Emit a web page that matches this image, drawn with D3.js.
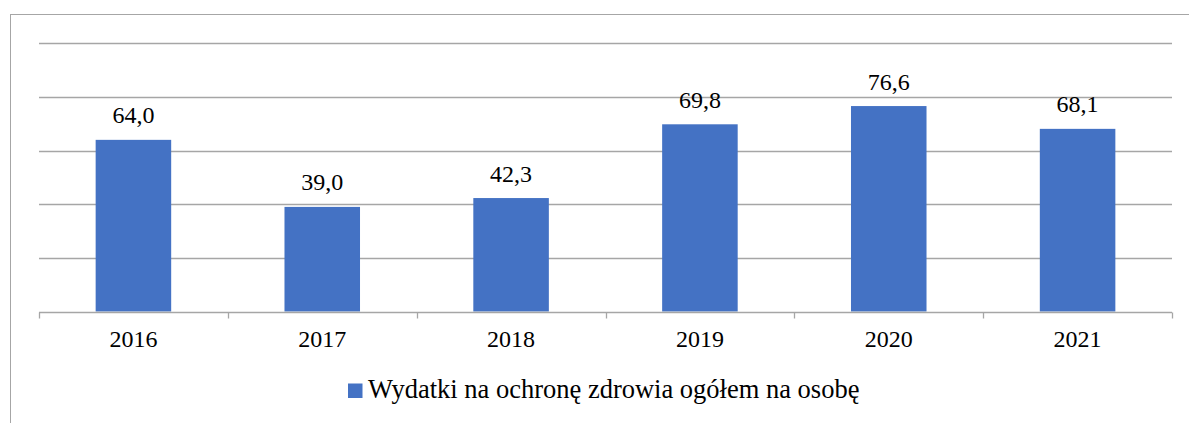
<!DOCTYPE html>
<html>
<head>
<meta charset="utf-8">
<script src="https://cdn.jsdelivr.net/npm/d3@7"></script>
</head>
<body style="margin:0">
<svg id="chart" width="1189" height="423" style="display:block"></svg>
<script>
// Health expenditure per person, by year
const years = ["2016", "2017", "2018", "2019", "2020", "2021"];
const values = [64.0, 39.0, 42.3, 69.8, 76.6, 68.1];
const yTicks = [0, 20, 40, 60, 80, 100];
const seriesName = "Wydatki na ochronę zdrowia ogółem na osobę";

const svg = d3.select("#chart");
const W = 1189, H = 423;
const plot = { left: 39, right: 1172, top: 43.3, bottom: 311.5 };
const gridColor = "#a6a6a6";
const barColor = "#4472C4";

// serif text helper
function serif(sel, size) {
  return sel.attr("font-family", "Liberation Serif")
    .style("font-family", "'Liberation Serif', serif")
    .attr("font-size", size)
    .attr("fill", "#000");
}

// outer frame (open on the right and bottom)
svg.append("rect")
  .attr("x", 10.5).attr("y", 14.5)
  .attr("width", W).attr("height", H)
  .attr("fill", "none").attr("stroke", "#a6a6a6").attr("stroke-width", 1);

const x = d3.scaleBand().domain(years).range([plot.left, plot.right]).padding(0);
const y = d3.scaleLinear().domain([0, 100]).range([plot.bottom, plot.top]);

// horizontal gridlines
svg.append("g").selectAll("line")
  .data(yTicks.filter(t => t > 0))
  .join("line")
  .attr("x1", plot.left).attr("x2", plot.right)
  .attr("y1", d => Math.round(y(d)) + 0.5).attr("y2", d => Math.round(y(d)) + 0.5)
  .attr("stroke", gridColor).attr("stroke-width", 1.3);

// bars
const barW = x.bandwidth() * 0.4;
svg.append("g").selectAll("rect")
  .data(values)
  .join("rect")
  .attr("x", (d, i) => x(years[i]) + (x.bandwidth() - barW) / 2)
  .attr("width", barW)
  .attr("y", d => y(d))
  .attr("height", d => y(0) - y(d))
  .attr("fill", barColor);

// value labels
svg.append("g").selectAll("text")
  .data(values)
  .join("text")
  .attr("x", (d, i) => x(years[i]) + x.bandwidth() / 2)
  .attr("y", d => y(d) - 16.5)
  .attr("text-anchor", "middle")
  .call(serif, 24)
  .text(d => d.toFixed(1).replace(".", ","));

// category axis
const axisY = Math.round(y(0)) + 0.5;
const xAxis = svg.append("g");
xAxis.append("line")
  .attr("x1", plot.left).attr("x2", plot.right)
  .attr("y1", axisY).attr("y2", axisY)
  .attr("stroke", gridColor).attr("stroke-width", 1.3);
const edges = years.map(c => x(c)).concat([plot.right]);
xAxis.selectAll("line.tick")
  .data(edges)
  .join("line")
  .attr("class", "tick")
  .attr("x1", d => Math.round(d) + 0.5).attr("x2", d => Math.round(d) + 0.5)
  .attr("y1", axisY).attr("y2", axisY + 6)
  .attr("stroke", gridColor).attr("stroke-width", 1.3);
xAxis.selectAll("text")
  .data(years)
  .join("text")
  .attr("x", d => x(d) + x.bandwidth() / 2)
  .attr("y", 347)
  .attr("text-anchor", "middle")
  .call(serif, 24)
  .text(d => d);

// legend
const legend = svg.append("g");
legend.append("rect")
  .attr("x", 348).attr("y", 383.5)
  .attr("width", 14.5).attr("height", 14.5)
  .attr("fill", barColor);
legend.append("text")
  .attr("x", 368).attr("y", 397.5)
  .call(serif, 26.5)
  .text(seriesName);
</script>
</body>
</html>
